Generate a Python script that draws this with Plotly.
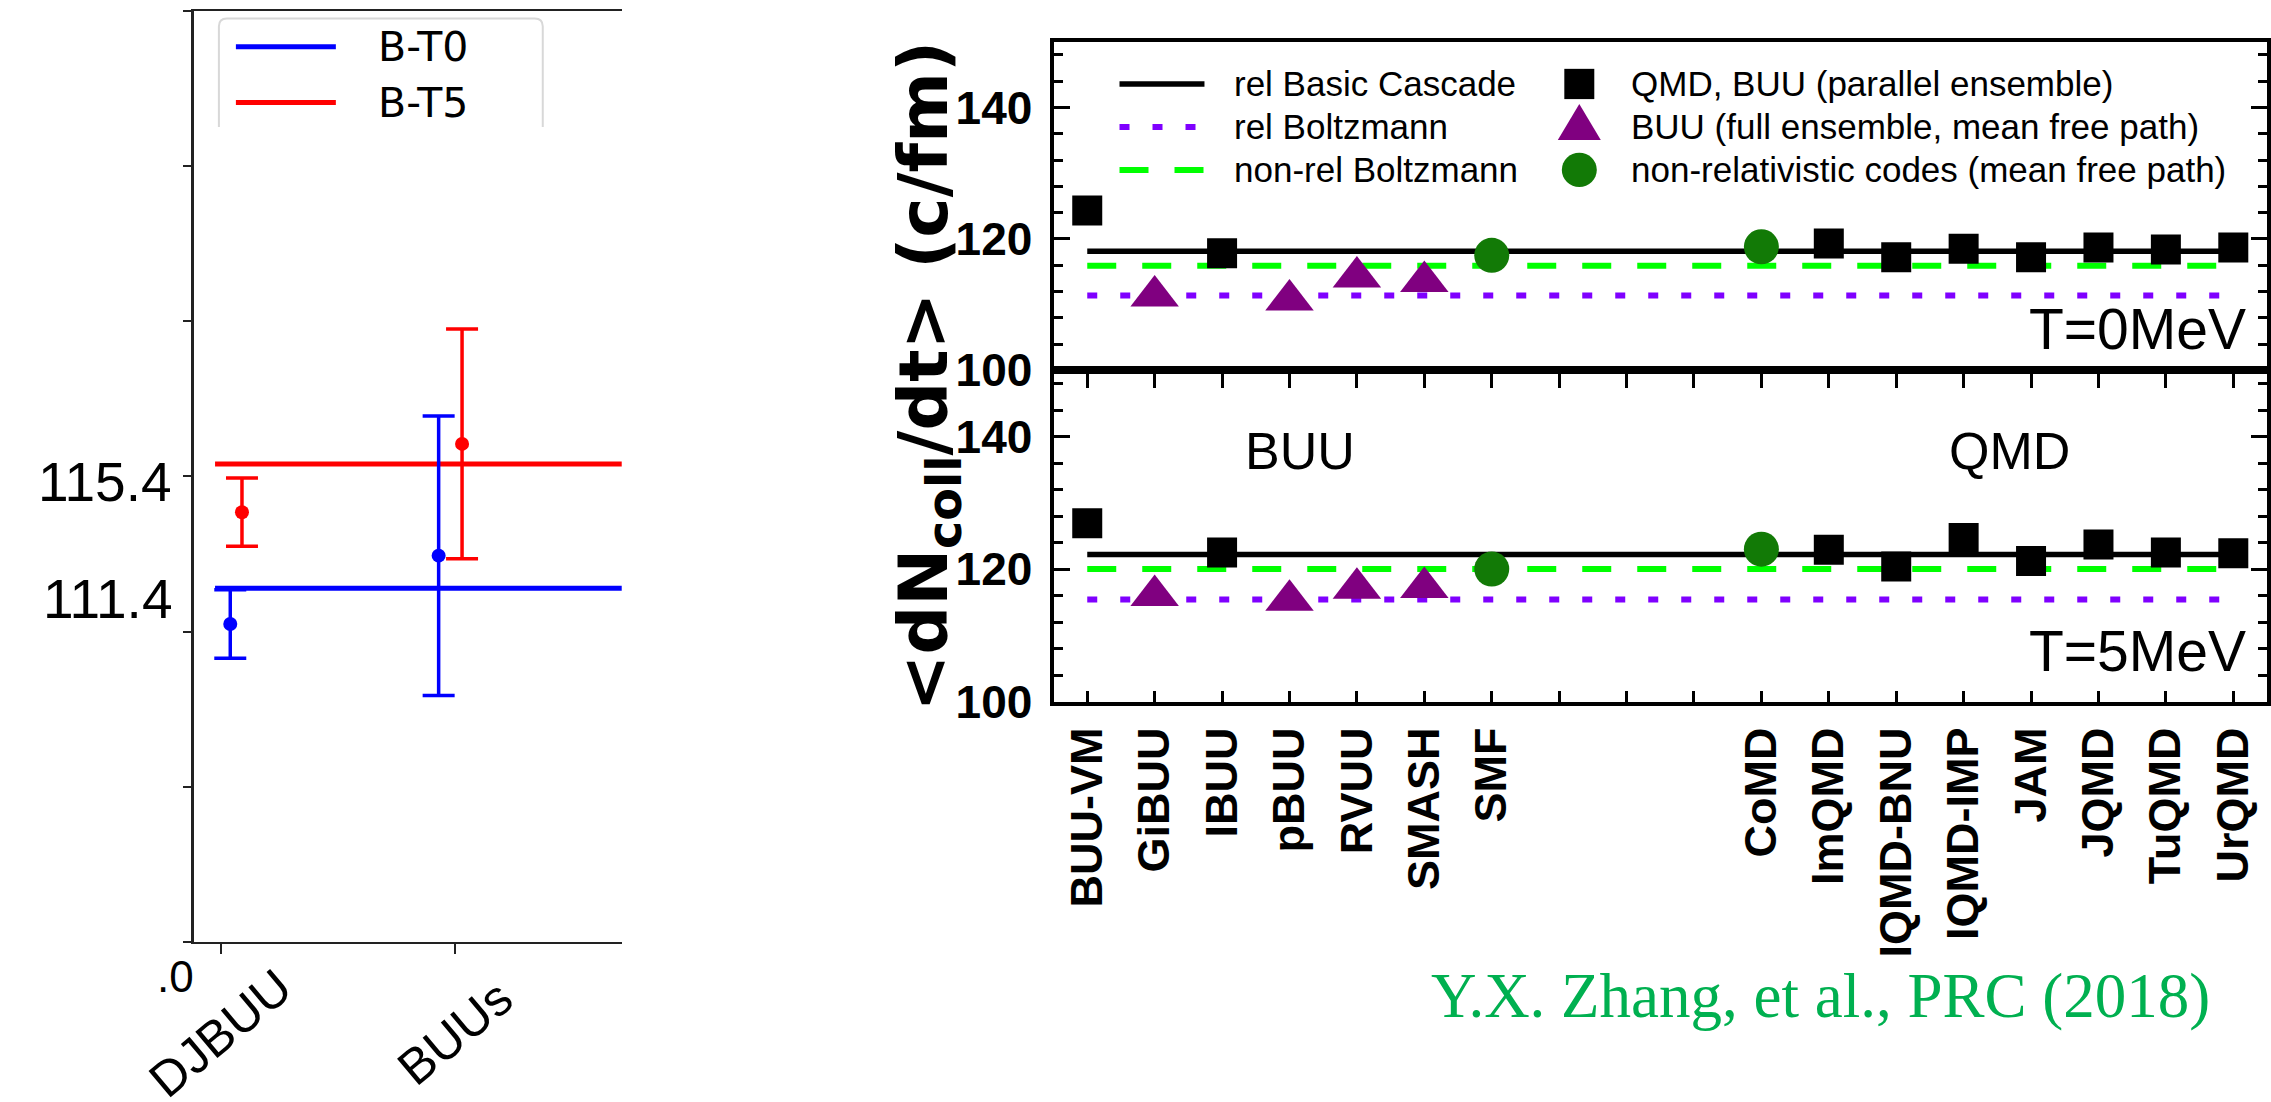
import plotly.graph_objects as go

W, H = 2271, 1102

# ---------------- left panel: B-T0 / B-T5 collision rates ----------------
left_codes = ["DJBUU", "BUUs"]
bt0_rate = [110.25, 112.45]
bt0_err = [1.10, 4.50]
bt5_rate = [113.85, 116.05]
bt5_err = [1.10, 3.70]
bt0_level = 111.4
bt5_level = 115.4

# ---------------- right panel: transport-code comparison ----------------
tick_labels = ["BUU-VM", "GiBUU", "IBUU", "pBUU", "RVUU", "SMASH", "SMF", "", "", "",
               "CoMD", "ImQMD", "IQMD-BNU", "IQMD-IMP", "JAM", "JQMD", "TuQMD", "UrQMD"]
codes = ["BUU-VM", "GiBUU", "IBUU", "pBUU", "RVUU", "SMASH", "SMF",
         "CoMD", "ImQMD", "IQMD-BNU", "IQMD-IMP", "JAM", "JQMD", "TuQMD", "UrQMD"]
code_family = ["parallel", "full", "parallel", "full", "full", "full", "nonrel",
               "nonrel", "parallel", "parallel", "parallel", "parallel", "parallel", "parallel", "parallel"]
rate_T0 = [124.3, 111.3, 117.8, 110.7, 114.2, 113.5, 117.5,
           118.8, 119.3, 117.2, 118.5, 117.2, 118.7, 118.4, 118.7]
rate_T5 = [126.9, 116.0, 122.5, 115.3, 117.1, 117.2, 120.0,
           123.0, 122.9, 120.4, 124.7, 121.2, 123.7, 122.5, 122.4]
temperatures = ["T=0MeV", "T=5MeV"]
rel_cascade = [118.1, 122.2]
rel_boltzmann = [111.4, 115.4]
nonrel_boltzmann = [115.9, 120.0]

legend_lines = ["rel Basic Cascade", "rel Boltzmann", "non-rel Boltzmann"]
legend_marks = ["QMD, BUU (parallel ensemble)", "BUU (full ensemble, mean free path)",
                "non-relativistic codes (mean free path)"]

# ---------------- styles ----------------
BLACK = "#000000"
LIME = "#00ff00"
VIOLET = "#7f00ff"
PURPLE = "#800080"
DKGREEN = "#127a06"
CITE = "#00b050"
SANS = "Liberation Sans"
WIDE = "DejaVu Sans"

family_style = {
    "parallel": dict(symbol="square", size=30, color=BLACK),
    "full": dict(symbol="triangle-up", size=42, color=PURPLE),
    "nonrel": dict(symbol="circle", size=35, color=DKGREEN),
}
line_styles = [
    dict(color=BLACK, width=5.5, dash="solid"),
    dict(color=VIOLET, width=6, dash="10px,23px"),
    dict(color=LIME, width=6, dash="29px,26px"),
]


def fx(px):
    return px / W


def fy(py):
    return 1 - py / H


fig = go.Figure()

# ---- left panel traces ----
bt0_dodge = [0.04, -0.07]
bt5_dodge = [0.09, 0.03]
for level, color in [(bt0_level, "#0000ff"), (bt5_level, "#ff0000")]:
    fig.add_trace(go.Scatter(x=[-0.025, 2.5], y=[level, level], mode="lines",
                             line=dict(color=color, width=5), xaxis="x4", yaxis="y4",
                             hoverinfo="skip"))
for rate, err, dodge, color in [(bt0_rate, bt0_err, bt0_dodge, "#0000ff"),
                                (bt5_rate, bt5_err, bt5_dodge, "#ff0000")]:
    fig.add_trace(go.Scatter(
        x=[i + d for i, d in enumerate(dodge)], y=rate, mode="markers",
        marker=dict(color=color, size=14),
        error_y=dict(type="data", array=err, color=color, thickness=3.5, width=16),
        xaxis="x4", yaxis="y4"))

# ---- right panel traces ----
slot = {c: tick_labels.index(c) for c in codes}
first, last = slot[codes[0]], slot[codes[-1]]
for k, (xa, ya, rates) in enumerate([("x", "y", rate_T0), ("x2", "y2", rate_T5)]):
    for level, st in [(nonrel_boltzmann[k], line_styles[2]),
                      (rel_boltzmann[k], line_styles[1]),
                      (rel_cascade[k], line_styles[0])]:
        fig.add_trace(go.Scatter(x=[first, last], y=[level, level], mode="lines",
                                 line=st, xaxis=xa, yaxis=ya, hoverinfo="skip"))
    for fam, st in family_style.items():
        sel = [i for i, f in enumerate(code_family) if f == fam]
        fig.add_trace(go.Scatter(
            x=[slot[codes[i]] for i in sel], y=[rates[i] for i in sel],
            text=[codes[i] for i in sel], mode="markers",
            marker=dict(symbol=st["symbol"], size=st["size"], color=st["color"],
                        line=dict(width=0)),
            xaxis=xa, yaxis=ya))
# carrier for the top tick row of the lower frame
fig.add_trace(go.Scatter(x=[], y=[], xaxis="x3", yaxis="y2", hoverinfo="skip"))

# ---------------- geometry ----------------
R_LEFT, R_RIGHT = 1054, 2268
R_TOP, R_MID, R_BOT = 42.7, 379.3, 718.5
L_LEFT, L_RIGHT, L_TOP, L_BOT = 194.3, 622, 11, 965

frame = dict(showgrid=False, zeroline=False, showline=True, linecolor=BLACK, linewidth=4)
yframe = dict(frame, range=[100, 150], tickmode="linear", tick0=100, dtick=20,
              ticks="inside", ticklen=16, tickwidth=3, tickcolor=BLACK, mirror="ticks",
              minor=dict(dtick=4, tick0=100, ticks="inside", ticklen=9, tickwidth=3,
                         tickcolor=BLACK, showgrid=False),
              tickfont=dict(family=SANS, size=46, color=BLACK, weight="bold"),
              ticklabelstandoff=8)

fig.update_layout(
    width=W, height=H, margin=dict(l=0, r=0, t=0, b=0), autosize=False,
    paper_bgcolor="white", plot_bgcolor="white", showlegend=False,
    xaxis=dict(frame, domain=[fx(R_LEFT), fx(R_RIGHT)], range=[-0.5, 17.5], anchor="y",
               mirror=True, ticks="", showticklabels=False),
    yaxis=dict(yframe, domain=[fy(R_MID), fy(R_TOP)], anchor="x"),
    xaxis2=dict(frame, domain=[fx(R_LEFT), fx(R_RIGHT)], range=[-0.5, 17.5], anchor="y2",
                mirror=True, tickmode="array", tickvals=[slot[c] for c in codes],
                ticktext=codes, ticks="inside", ticklen=11, tickwidth=3,
                tickcolor=BLACK, tickangle=-90, ticklabelstandoff=4,
                minor=dict(tickmode="linear", tick0=0, dtick=1, ticks="inside", ticklen=11,
                           tickwidth=3, tickcolor=BLACK, showgrid=False),
                tickfont=dict(family=SANS, size=45, color=BLACK, weight="bold")),
    yaxis2=dict(yframe, domain=[fy(R_BOT), fy(R_MID)], anchor="x2"),
    xaxis3=dict(showgrid=False, zeroline=False, showline=False, overlaying="x2",
                side="top", anchor="y2", range=[-0.5, 17.5], tickmode="linear", tick0=0,
                dtick=1, ticks="inside", ticklen=18, tickwidth=3, tickcolor=BLACK,
                showticklabels=False),
    xaxis4=dict(showgrid=False, zeroline=False, domain=[fx(L_LEFT), fx(L_RIGHT)],
                range=[-0.114, 1.712], anchor="y4", showline=True, linecolor="#222",
                linewidth=1.5, mirror=True, tickmode="array", tickvals=[0, 1],
                ticks="outside", ticklen=10, tickwidth=1.5, tickcolor="#222",
                showticklabels=False),
    yaxis4=dict(showgrid=False, zeroline=False, domain=[fy(L_BOT), fy(L_TOP)],
                range=[100, 130], anchor="x4", showline=True, linecolor="#222",
                linewidth=2.5, tickmode="linear", tick0=100, dtick=5, ticks="outside",
                ticklen=8, tickwidth=1.5, tickcolor="#222", showticklabels=False),
)

ann = []
shapes = []


def text(x, y, s, size, family=SANS, color=BLACK, xanchor="center", yanchor="middle",
         angle=0, weight="normal", xref="paper", yref="paper"):
    ann.append(dict(x=x, y=y, xref=xref, yref=yref, text=s, showarrow=False,
                    xanchor=xanchor, yanchor=yanchor, textangle=angle,
                    font=dict(family=family, size=size, color=color, weight=weight)))


# ---- left panel text ----
text(fx(174), fy(494), f"{bt5_level:.1f}", 55, xanchor="right")
text(fx(174), fy(613), f"{bt0_level:.1f}", 55, xanchor="right")
text(fx(196), fy(1000), ".0", 44, xanchor="right")
for i, name in enumerate(left_codes):
    text(i, fy(1058), name, 50, angle=-40, xref="x4")

# left legend: open-bottom rounded box, line keys and labels
bx0, bx1, by0, by1, rr = fx(219), fx(543), fy(19), fy(130), 8
shapes.append(dict(type="path", xref="paper", yref="paper",
                   path=(f"M {bx0},{by1} L {bx0},{fy(19 + rr)} Q {bx0},{by0} {fx(219 + rr)},{by0} "
                         f"L {fx(543 - rr)},{by0} Q {bx1},{by0} {bx1},{fy(19 + rr)} L {bx1},{by1}"),
                   line=dict(color="#d8d8d8", width=2)))
for row_y, name, color in [(48, "B-T0", "#0000ff"), (105, "B-T5", "#ff0000")]:
    shapes.append(dict(type="line", xref="paper", yref="paper", x0=fx(236), x1=fx(336),
                       y0=fy(row_y), y1=fy(row_y), line=dict(color=color, width=5)))
    text(fx(423), fy(row_y), name, 41, family=WIDE)

# ---- right panel text ----
text(fx(928), fy(385), "&lt;dN<sub>coll</sub>/dt&gt; (c/fm)", 68, family=WIDE,
     angle=-90, weight="bold")
text(fx(2249), fy(337), temperatures[0], 57, xanchor="right")
text(fx(2249), fy(667), temperatures[1], 57, xanchor="right")
text(fx(1301), fy(462), "BUU", 52)
text(fx(2010), fy(462), "QMD", 52)
text(fx(1821), fy(1020), "Y.X. Zhang, et al., PRC (2018)", 63, family="Liberation Serif",
     color=CITE)

rows = [86, 130, 174]
for r, name, st in zip(rows, legend_lines, line_styles):
    shapes.append(dict(type="line", xref="paper", yref="paper", x0=fx(1120), x1=fx(1205),
                       y0=fy(r), y1=fy(r),
                       line=dict(color=st["color"], width=st["width"], dash=st["dash"])))
    text(fx(1233), fy(r), name, 35, xanchor="left")
for r, name in zip(rows, legend_marks):
    text(fx(1630), fy(r), name, 35, xanchor="left")

kx = 1580
shapes.append(dict(type="rect", xref="paper", yref="paper", x0=fx(kx - 15), x1=fx(kx + 15),
                   y0=fy(86 + 15.5), y1=fy(86 - 15.5), fillcolor=BLACK, line=dict(width=0)))
shapes.append(dict(type="path", xref="paper", yref="paper",
                   path=f"M {fx(kx - 21.5)},{fy(143.5)} L {fx(kx + 21.5)},{fy(143.5)} L {fx(kx)},{fy(106.5)} Z",
                   fillcolor=PURPLE, line=dict(width=0)))
shapes.append(dict(type="circle", xref="paper", yref="paper", x0=fx(kx - 17.5), x1=fx(kx + 17.5),
                   y0=fy(174 + 17.5), y1=fy(174 - 17.5), fillcolor=DKGREEN, line=dict(width=0)))

fig.update_layout(annotations=ann, shapes=shapes)
fig.write_html("out.html")
